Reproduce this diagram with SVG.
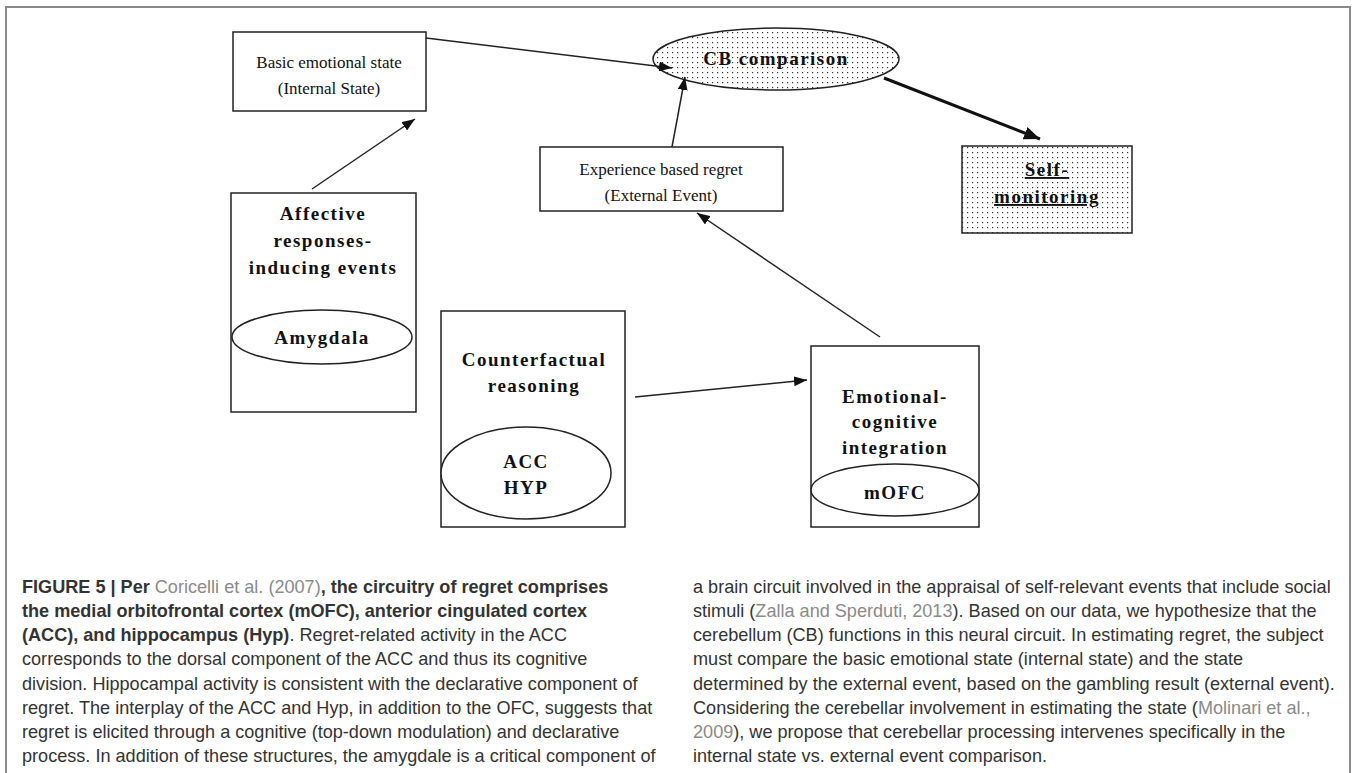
<svg xmlns="http://www.w3.org/2000/svg" width="1354" height="773" viewBox="0 0 1354 773">
<style>
.box{fill:#fff;stroke:#222;stroke-width:1.5}
.dot{fill:url(#dots);stroke:#222;stroke-width:1.5}
.ell{fill:#fff;stroke:#222;stroke-width:1.5}
.t{font-family:"Liberation Serif","Times New Roman",serif;font-size:17px;fill:#111;text-anchor:middle}
.tb{font-family:"Liberation Serif","Times New Roman",serif;font-size:19px;font-weight:bold;letter-spacing:1.5px;fill:#111;text-anchor:middle}
.u{text-decoration:underline}
.edge{fill:none;stroke:#222;stroke-width:1.5}
.thick{fill:none;stroke:#111;stroke-width:3}
.cap{font-family:"Liberation Sans",Arial,sans-serif;font-size:18.1px;fill:#333}
.b{font-weight:bold}
.ref{fill:#8a8a8a;font-weight:normal}
</style>
<defs>
<pattern id="dots" width="5" height="5" patternUnits="userSpaceOnUse">
<rect width="5" height="5" fill="#fff"/>
<rect x="2" y="2" width="1.2" height="1.2" fill="#333"/>
</pattern>
<marker id="ah" markerWidth="14" markerHeight="10" refX="13" refY="5" orient="auto" markerUnits="userSpaceOnUse">
<path d="M0,0 L13,5 L0,10 Z" fill="#111"/>
</marker>
<marker id="ahb" markerWidth="17" markerHeight="13" refX="16" refY="6.5" orient="auto" markerUnits="userSpaceOnUse">
<path d="M0,0 L16,6.5 L0,13 Z" fill="#111"/>
</marker>
</defs>
<rect width="1354" height="773" fill="#fff"/>
<path d="M6,773 V7 H1350 V773" fill="none" stroke="#8a8a8a" stroke-width="2"/>

<g id="basic">
<rect class="box" x="233" y="32" width="193" height="79"/>
<text class="t" x="329" y="68">Basic emotional state</text>
<text class="t" x="329" y="94">(Internal State)</text>
</g>

<g id="cb">
<ellipse class="dot" cx="776" cy="59" rx="123" ry="31"/>
<text class="tb" x="776" y="65">CB comparison</text>
</g>

<g id="self">
<rect class="dot" x="962" y="146" width="170" height="87"/>
<text class="tb u" x="1047" y="176">Self-</text>
<text class="tb u" x="1047" y="203">monitoring</text>
</g>

<g id="experience">
<rect class="box" x="540" y="147" width="243" height="64"/>
<text class="t" x="661" y="175">Experience based regret</text>
<text class="t" x="661" y="201">(External Event)</text>
</g>

<g id="affective">
<rect class="box" x="231" y="193" width="185" height="219"/>
<text class="tb" x="323" y="220">Affective</text>
<text class="tb" x="323" y="247">responses-</text>
<text class="tb" x="323" y="274">inducing events</text>
<ellipse class="ell" cx="322" cy="337" rx="90" ry="27"/>
<text class="tb" x="322" y="344">Amygdala</text>
</g>

<g id="counterfactual">
<rect class="box" x="441" y="311" width="184" height="216"/>
<text class="tb" x="534" y="366">Counterfactual</text>
<text class="tb" x="534" y="392">reasoning</text>
<ellipse class="ell" cx="526" cy="473" rx="85" ry="46"/>
<text class="tb" x="526" y="468">ACC</text>
<text class="tb" x="526" y="494">HYP</text>
</g>

<g id="emotional">
<rect class="box" x="811" y="346" width="168" height="181"/>
<text class="tb" x="895" y="403">Emotional-</text>
<text class="tb" x="895" y="428">cognitive</text>
<text class="tb" x="895" y="454">integration</text>
<ellipse class="ell" cx="895" cy="490" rx="84" ry="26"/>
<text class="tb" x="895" y="499">mOFC</text>
</g>

<g id="connectors">
<path class="edge" d="M312,189 L415,119" marker-end="url(#ah)"/>
<path class="edge" d="M426,38 L672,68" marker-end="url(#ah)"/>
<path class="edge" d="M672,147 L685,77" marker-end="url(#ah)"/>
<path class="thick" d="M884,78 L1040,139" marker-end="url(#ahb)"/>
<path class="edge" d="M880,337 L697,213" marker-end="url(#ah)"/>
<path class="edge" d="M635,397 L807,380" marker-end="url(#ah)"/>
</g>

<g id="caption">
<text class="cap b" x="22" y="593">FIGURE 5 | Per <tspan class="ref">Coricelli et al. (2007)</tspan>, the circuitry of regret comprises</text>
<text class="cap b" x="22" y="617">the medial orbitofrontal cortex (mOFC), anterior cingulated cortex</text>
<text class="cap" x="22" y="641"><tspan class="b">(ACC), and hippocampus (Hyp)</tspan>. Regret-related activity in the ACC</text>
<text class="cap" x="22" y="665">corresponds to the dorsal component of the ACC and thus its cognitive</text>
<text class="cap" x="22" y="690">division. Hippocampal activity is consistent with the declarative component of</text>
<text class="cap" x="22" y="714">regret. The interplay of the ACC and Hyp, in addition to the OFC, suggests that</text>
<text class="cap" x="22" y="738">regret is elicited through a cognitive (top-down modulation) and declarative</text>
<text class="cap" x="22" y="762">process. In addition of these structures, the amygdale is a critical component of</text>

<text class="cap" x="693" y="593">a brain circuit involved in the appraisal of self-relevant events that include social</text>
<text class="cap" x="693" y="617">stimuli (<tspan class="ref">Zalla and Sperduti, 2013</tspan>). Based on our data, we hypothesize that the</text>
<text class="cap" x="693" y="641">cerebellum (CB) functions in this neural circuit. In estimating regret, the subject</text>
<text class="cap" x="693" y="665">must compare the basic emotional state (internal state) and the state</text>
<text class="cap" x="693" y="690">determined by the external event, based on the gambling result (external event).</text>
<text class="cap" x="693" y="714">Considering the cerebellar involvement in estimating the state (<tspan class="ref">Molinari et al.,</tspan></text>
<text class="cap" x="693" y="738"><tspan class="ref">2009</tspan>), we propose that cerebellar processing intervenes specifically in the</text>
<text class="cap" x="693" y="762">internal state vs. external event comparison.</text>
</g>
</svg>
